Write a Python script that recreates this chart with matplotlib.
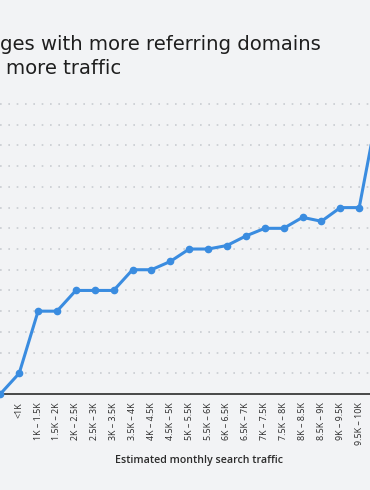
import matplotlib
matplotlib.use("Agg")
import matplotlib.pyplot as plt

# ---------- Data (in gridline units) ----------
traffic_bins = ["", "<1K", "1K – 1.5K", "1.5K – 2K", "2K – 2.5K", "2.5K – 3K",
                "3K – 3.5K", "3.5K – 4K", "4K – 4.5K", "4.5K – 5K", "5K – 5.5K",
                "5.5K – 6K", "6K – 6.5K", "6.5K – 7K", "7K – 7.5K", "7.5K – 8K",
                "8K – 8.5K", "8.5K – 9K", "9K – 9.5K", "9.5K – 10K", "10K+"]
referring_domains = [0, 1, 4, 4, 5, 5, 5, 6, 6, 6.4, 7, 7, 7.17, 7.63, 8, 8,
                     8.53, 8.34, 9, 9, 13.8]
grid_levels = list(range(1, 15))

# title is cropped on the left in the reference, only the visible part is kept
title_line1 = "ges with more referring domains"
title_line2 = "more traffic"
x_title = "Estimated monthly search traffic"

# ---------- Style ----------
BG = "#f2f3f5"
BLUE = "#3a8ce0"
TEXT = "#2b2b2b"

W, H = 370, 490
fig = plt.figure(figsize=(W / 100, H / 100), dpi=100, facecolor=BG)

# axes spans full width, bottom at the x axis line (y=394 px)
ax_top_px, ax_bot_px = 95, 394
ax = fig.add_axes([0, (H - ax_bot_px) / H, 1, (ax_bot_px - ax_top_px) / H])
ax.set_facecolor(BG)

for g in grid_levels:
    ax.axhline(g, color="#c9ccd1", lw=1.2, linestyle=(0, (1, 4)), zorder=1)

x = list(range(len(traffic_bins)))
ax.plot(x, referring_domains, color=BLUE, lw=2.2, marker="o", markersize=4.5,
        zorder=3, clip_on=False)

for s in ["top", "right", "left"]:
    ax.spines[s].set_visible(False)
ax.spines["bottom"].set_color("#3a3a3a")
ax.spines["bottom"].set_linewidth(1.3)
ax.spines["bottom"].set_zorder(2)

ax.set_yticks([])
ax.set_xticks(x)
ax.set_xticklabels(traffic_bins, rotation=90, fontsize=6.4, color=TEXT,
                   family="Open Sans", va="top", ha="center")
ax.tick_params(axis="x", length=0, pad=6)

# limits after the ticks, so set_xticks does not widen them
step = 18.89
x0 = 0.3
ax.set_xlim(-x0 / step, (W - x0) / step)
grid_px = 20.71
ax.set_ylim(0, (ax_bot_px - ax_top_px) / grid_px)

fig.text(199 / W, 1 - 460 / H, x_title, ha="center", va="center",
         fontsize=7.7, color=TEXT, family="Open Sans", fontweight="semibold")

t1 = fig.text(0 / W, 1 - 49.5 / H, title_line1, ha="left", va="baseline",
              fontsize=14, color="#1e1e1e", family="DejaVu Sans")
t2 = fig.text(6 / W, 1 - 73.5 / H, title_line2, ha="left", va="baseline",
              fontsize=14, color="#1e1e1e", family="DejaVu Sans")

# scale the title size so line 1 ends where it does in the reference
r = fig.canvas.get_renderer()
w1 = t1.get_window_extent(r).width
size = 14 * 323 / w1
t1.set_fontsize(size)
t2.set_fontsize(size)

fig.savefig("out.png", dpi=100, facecolor=BG)
